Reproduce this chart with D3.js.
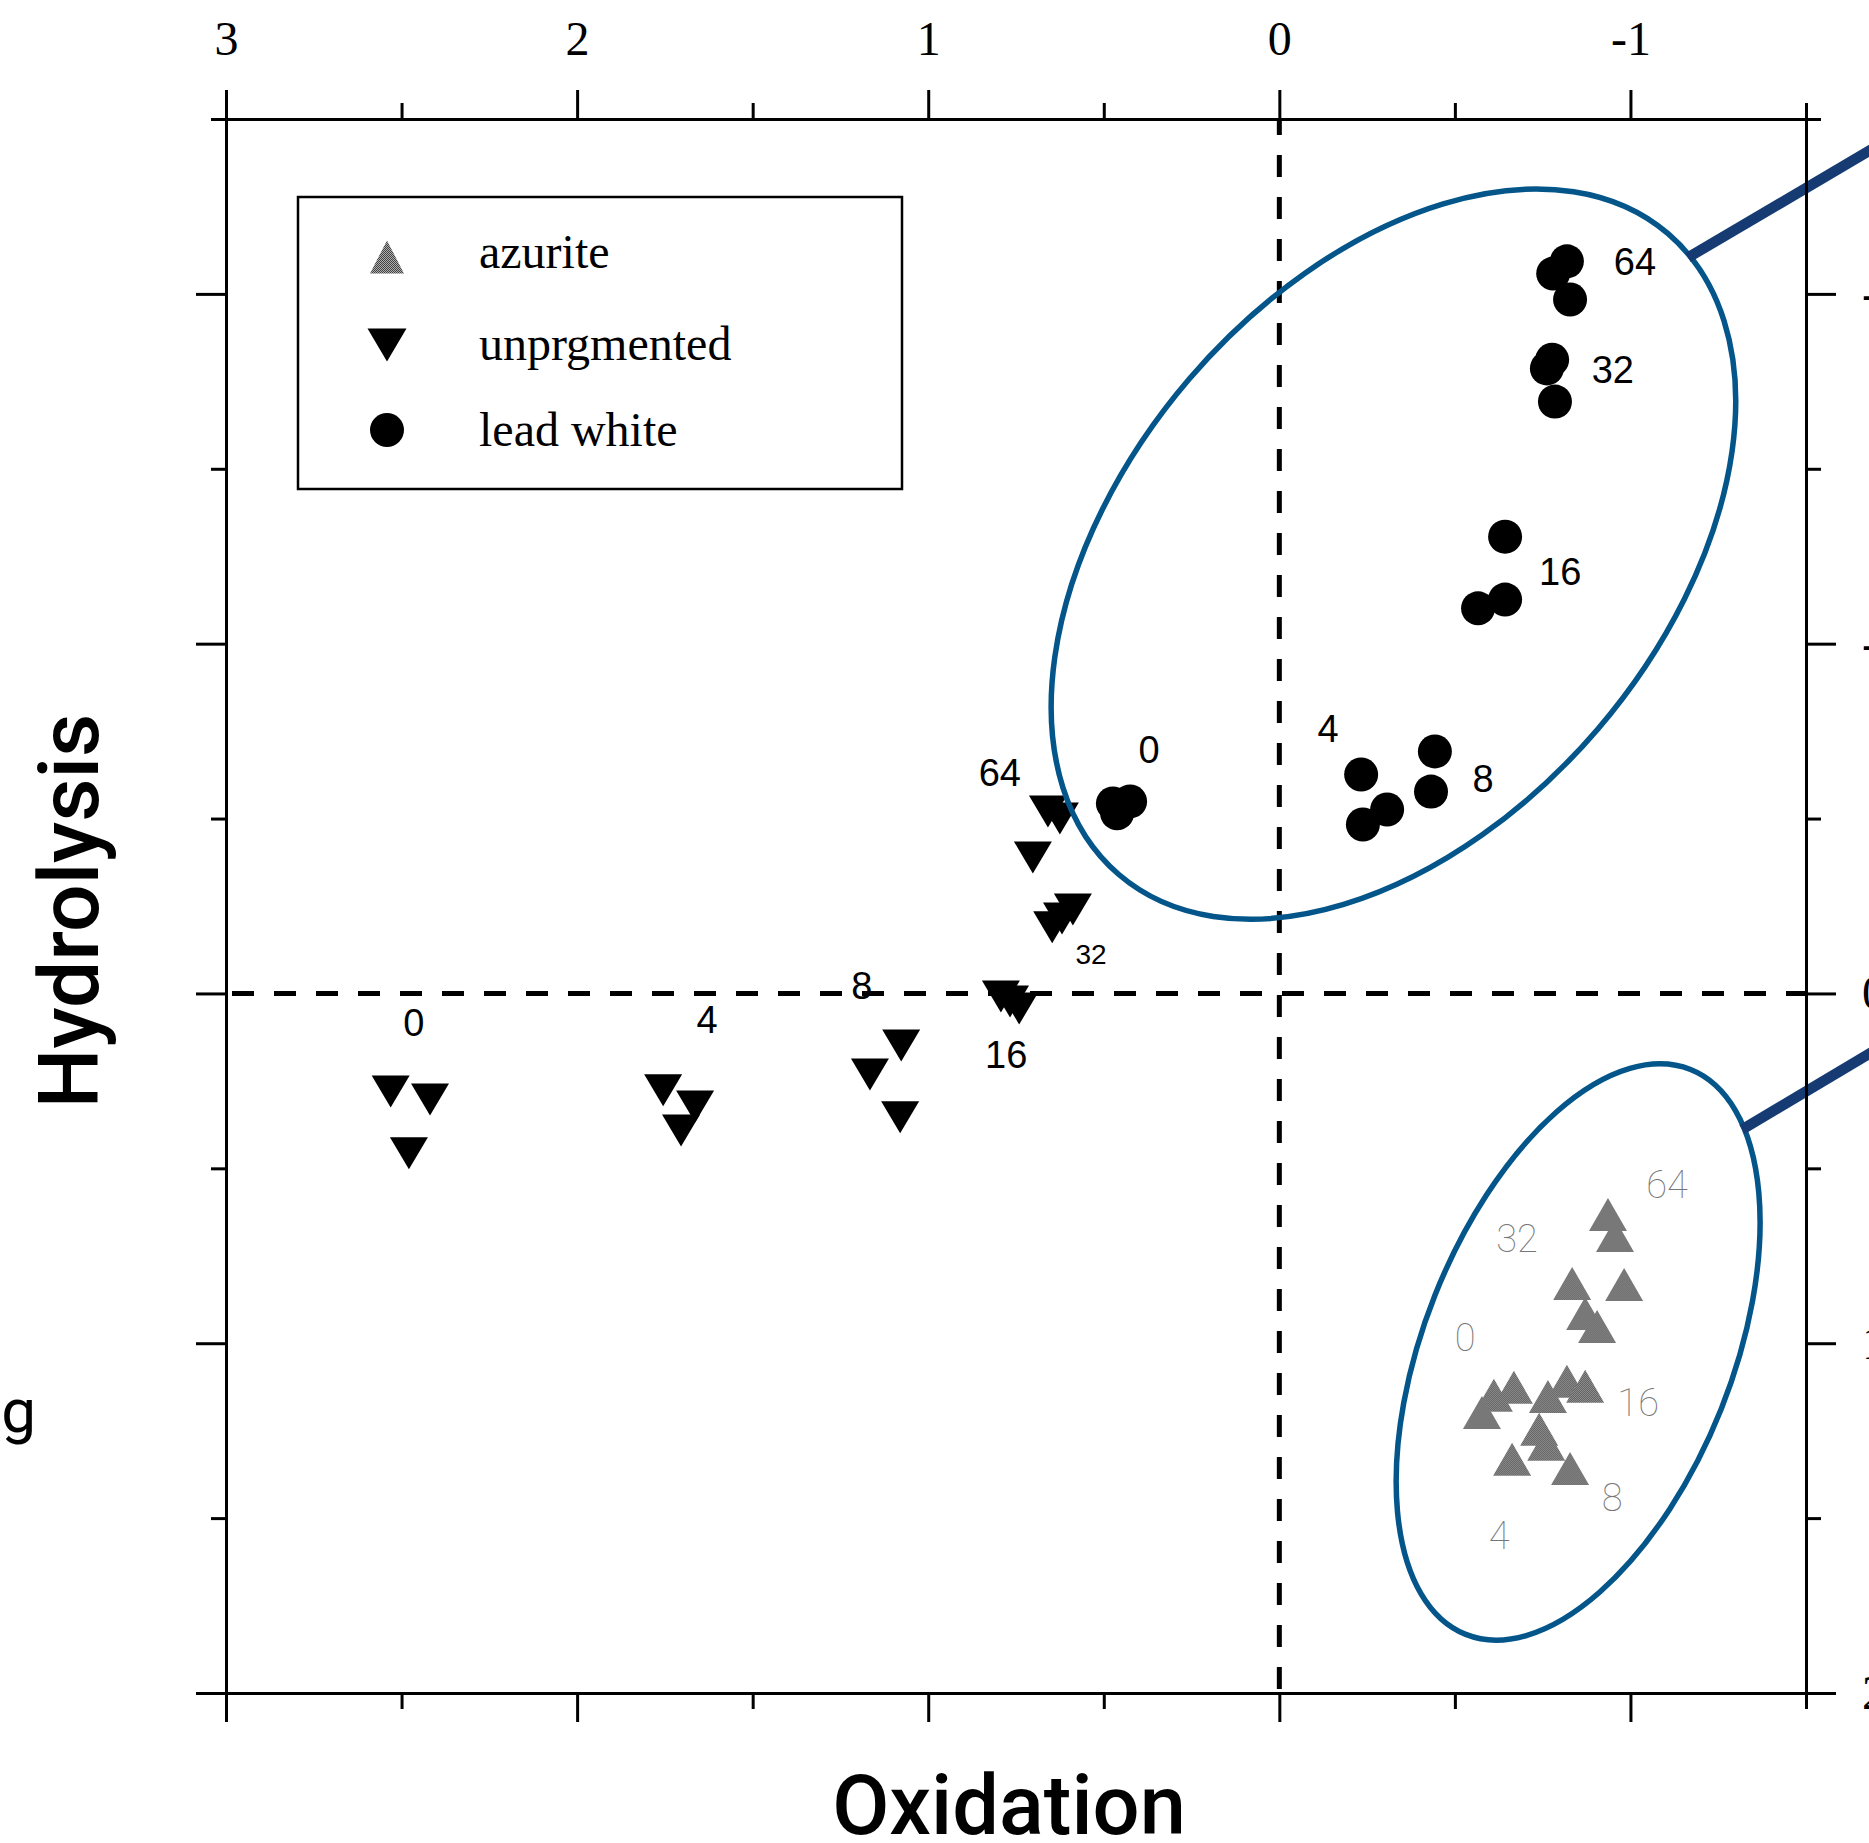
<!DOCTYPE html>
<html>
<head>
<meta charset="utf-8">
<script src="https://cdn.jsdelivr.net/npm/d3@7"></script>
<style>
html,body{margin:0;padding:0;background:#fff;}
svg{display:block;}
</style>
</head>
<body>
<svg id="chart" width="1869" height="1843"></svg>
<script>
// ---- data ----
const xMajor=[3,2,1,0,-1];
const xMinor=[2.5,1.5,0.5,-0.5,-1.5];
const yMajor=[-2,-1,0,1,2];
const yMinor=[-2.5,-1.5,-0.5,0.5,1.5];

// t = exposure label the replicate belongs to
const leadWhite=[
  {t:64,x:-0.819,y:-2.093},{t:64,x:-0.780,y:-2.058},{t:64,x:-0.828,y:-1.984},
  {t:32,x:-0.777,y:-1.812},{t:32,x:-0.762,y:-1.787},{t:32,x:-0.785,y:-1.692},
  {t:16,x:-0.643,y:-1.306},{t:16,x:-0.643,y:-1.126},{t:16,x:-0.566,y:-1.101},
  {t:8,x:-0.443,y:-0.692},{t:8,x:-0.432,y:-0.577},
  {t:4,x:-0.233,y:-0.626},{t:4,x:-0.307,y:-0.526},{t:4,x:-0.238,y:-0.483},
  {t:0,x:0.474,y:-0.543},{t:0,x:0.425,y:-0.549},{t:0,x:0.462,y:-0.515}
];
const unpigmented=[
  {t:0,x:2.531,y:0.280},{t:0,x:2.419,y:0.303},{t:0,x:2.479,y:0.457},
  {t:4,x:1.755,y:0.277},{t:4,x:1.664,y:0.323},{t:4,x:1.704,y:0.392},
  {t:8,x:1.077,y:0.149},{t:8,x:1.166,y:0.232},{t:8,x:1.080,y:0.354},
  {t:16,x:0.793,y:0.009},{t:16,x:0.767,y:0.023},{t:16,x:0.741,y:0.043},
  {t:32,x:0.588,y:-0.240},{t:32,x:0.619,y:-0.214},{t:32,x:0.647,y:-0.189},
  {t:64,x:0.659,y:-0.520},{t:64,x:0.625,y:-0.500},{t:64,x:0.702,y:-0.389}
];
const azurite=[
  {t:64,x:-0.936,y:0.632},{t:64,x:-0.956,y:0.692},{t:64,x:-0.982,y:0.832},
  {t:32,x:-0.834,y:0.829},{t:32,x:-0.871,y:0.915},{t:32,x:-0.905,y:0.952},
  {t:0,x:-0.611,y:1.149},{t:0,x:-0.577,y:1.198},{t:0,x:-0.668,y:1.126},
  {t:16,x:-0.765,y:1.152},{t:16,x:-0.819,y:1.109},{t:16,x:-0.871,y:1.123},
  {t:8,x:-0.740,y:1.246},{t:8,x:-0.760,y:1.289},{t:8,x:-0.828,y:1.358},
  {t:4,x:-0.663,y:1.332}
];

const leadWhiteLabels=[
  {text:"64",x:-1.013,y:-2.055},{text:"32",x:-0.950,y:-1.744},{text:"16",x:-0.800,y:-1.169},
  {text:"8",x:-0.580,y:-0.577},{text:"4",x:-0.139,y:-0.720},{text:"0",x:0.371,y:-0.660}
];
const unpigLabels=[
  {text:"0",x:2.465,y:0.123,s:38},{text:"4",x:1.630,y:0.114,s:38},{text:"8",x:1.189,y:0.017,s:38},
  {text:"16",x:0.778,y:0.214,s:38},{text:"32",x:0.536,y:-0.083,s:28},{text:"64",x:0.796,y:-0.592,s:38}
];
const azuriteLabels=[
  {text:"64",x:-1.104,y:0.586},{text:"32",x:-0.677,y:0.738},{text:"0",x:-0.529,y:1.023},
  {text:"16",x:-1.022,y:1.209},{text:"8",x:-0.948,y:1.481},{text:"4",x:-0.626,y:1.587}
];

// grouping ellipses (centre in data units) and their callout lines
const groups=[
  {cx:-0.325,cy:-1.256,rx:422,ry:269,rot:-49.4, line:[[-1.164,-2.104],[-1.768,-2.461]]},
  {cx:-0.851,cy:1.025,rx:304,ry:154,rot:-68.3, line:[[-1.318,0.389],[-1.768,0.120]]}
];

const legendItems=[
  {name:"azurite",kind:"up"},
  {name:"unprgmented",kind:"down"},
  {name:"lead white",kind:"circle"}
];

// ---- drawing ----
const svg=d3.select("#chart");
const x=d3.scaleLinear().domain([3,-1.5]).range([226,1806]);
const y=d3.scaleLinear().domain([-2.5,2]).range([119,1693]);

const defs=svg.append("defs");
const pat=defs.append("pattern").attr("id","stipple").attr("patternUnits","userSpaceOnUse")
  .attr("width",2).attr("height",2);
pat.append("rect").attr("width",2).attr("height",2).attr("fill","#b0b0b0");
pat.append("rect").attr("width",1).attr("height",1).attr("fill","#404040");
pat.append("rect").attr("x",1).attr("y",1).attr("width",1).attr("height",1).attr("fill","#404040");

function tri(w,h,down){
  return {draw(ctx){
    const s=down?1:-1;
    ctx.moveTo(-w/2,-s*h/2);
    ctx.lineTo(w/2,-s*h/2);
    ctx.lineTo(0,s*h/2);
    ctx.closePath();
  }};
}
const upPath=d3.symbol().type(tri(38,33,false))();
const downPath=d3.symbol().type(tri(38,32,true))();
const dotPath=d3.symbol().type(d3.symbolCircle).size(Math.PI*17*17)();

// dashed zero lines
svg.append("line").attr("x1",x(3)).attr("x2",x(-1.5)).attr("y1",y(0)).attr("y2",y(0))
  .attr("stroke","#000").attr("stroke-width",5).attr("stroke-dasharray","22 20").attr("stroke-dashoffset",36);
svg.append("line").attr("x1",x(0)).attr("x2",x(0)).attr("y1",y(-2.5)).attr("y2",y(2))
  .attr("stroke","#000").attr("stroke-width",5).attr("stroke-dasharray","22 20").attr("stroke-dashoffset",6);

// points
const pts=svg.append("g");
pts.selectAll(".az").data(azurite).join("path").attr("class","az")
  .attr("d",upPath).attr("fill","url(#stipple)")
  .attr("transform",d=>`translate(${x(d.x)},${y(d.y)})`);
pts.selectAll(".un").data(unpigmented).join("path").attr("class","un")
  .attr("d",downPath).attr("fill","#000")
  .attr("transform",d=>`translate(${x(d.x)},${y(d.y)})`);
pts.selectAll(".lw").data(leadWhite).join("path").attr("class","lw")
  .attr("d",dotPath).attr("fill","#000")
  .attr("transform",d=>`translate(${x(d.x)},${y(d.y)})`);

// labels
const lab=svg.append("g").attr("text-anchor","middle");
lab.selectAll(".lwl").data(leadWhiteLabels).join("text")
  .attr("x",d=>x(d.x)).attr("y",d=>y(d.y)).text(d=>d.text)
  .style("font-family","'Liberation Sans',Arial,sans-serif").style("font-size","38px").attr("fill","#000");
lab.selectAll(".unl").data(unpigLabels).join("text")
  .attr("x",d=>x(d.x)).attr("y",d=>y(d.y)).text(d=>d.text)
  .style("font-family","'Liberation Sans',Arial,sans-serif").style("font-size",d=>d.s+"px").attr("fill","#000");
lab.selectAll(".azl").data(azuriteLabels).join("text")
  .attr("x",d=>x(d.x)).attr("y",d=>y(d.y)).text(d=>d.text)
  .style("font-family","Roboto,sans-serif").style("font-weight",100).style("font-size","38px").attr("fill","#777");

// ellipses and callouts
const eg=svg.append("g");
eg.selectAll("ellipse").data(groups).join("ellipse")
  .attr("rx",d=>d.rx).attr("ry",d=>d.ry)
  .attr("transform",d=>`translate(${x(d.cx)},${y(d.cy)}) rotate(${d.rot})`)
  .attr("fill","none").attr("stroke","#03558a").attr("stroke-width",5.5);
eg.selectAll("line").data(groups).join("line")
  .attr("x1",d=>x(d.line[0][0])).attr("y1",d=>y(d.line[0][1]))
  .attr("x2",d=>x(d.line[1][0])).attr("y2",d=>y(d.line[1][1]))
  .attr("stroke","#163b73").attr("stroke-width",10.5);

// axes
function styleAxis(g){
  g.selectAll(".domain").attr("stroke","#000").attr("stroke-width",3);
  g.selectAll(".tick line").attr("stroke","#000").attr("stroke-width",3);
}
const serif="'Liberation Serif','Times New Roman',serif";
const fmt=d=>String(d);

svg.append("g").attr("transform",`translate(0,${y(-2.5)})`)
  .call(d3.axisTop(x).tickValues(xMinor).tickSize(16).tickSizeOuter(0).tickFormat(""))
  .call(styleAxis);
svg.append("g").attr("transform",`translate(0,${y(-2.5)})`)
  .call(d3.axisTop(x).tickValues(xMajor).tickSize(29).tickSizeOuter(0).tickPadding(35).tickFormat(fmt))
  .call(styleAxis)
  .call(g=>g.selectAll("text").style("font-family",serif).style("font-size","48px").attr("fill","#000"));

svg.append("g").attr("transform",`translate(0,${y(2)})`)
  .call(d3.axisBottom(x).tickValues(xMinor).tickSize(16).tickSizeOuter(0).tickFormat(""))
  .call(styleAxis);
svg.append("g").attr("transform",`translate(0,${y(2)})`)
  .call(d3.axisBottom(x).tickValues(xMajor.concat([3])).tickSize(29).tickSizeOuter(0).tickFormat(""))
  .call(styleAxis);

svg.append("g").attr("transform",`translate(${x(3)},0)`)
  .call(d3.axisLeft(y).tickValues(yMinor).tickSize(15).tickSizeOuter(0).tickFormat(""))
  .call(styleAxis);
svg.append("g").attr("transform",`translate(${x(3)},0)`)
  .call(d3.axisLeft(y).tickValues(yMajor).tickSize(30).tickSizeOuter(0).tickFormat(""))
  .call(styleAxis);

// right axis: its labels run past the right edge of the figure, as in the original
svg.append("g").attr("transform",`translate(${x(-1.5)},0)`)
  .call(d3.axisRight(y).tickValues(yMinor).tickSize(15).tickSizeOuter(0).tickFormat(""))
  .call(styleAxis);
svg.append("g").attr("transform",`translate(${x(-1.5)},0)`)
  .call(d3.axisRight(y).tickValues(yMajor).tickSize(30).tickSizeOuter(0).tickPadding(26).tickFormat(fmt))
  .call(styleAxis)
  .call(g=>g.selectAll("text").style("font-family",serif).style("font-size","48px").attr("fill","#000"));

// legend
const lg=svg.append("g");
lg.append("rect").attr("x",298).attr("y",197).attr("width",604).attr("height",292)
  .attr("fill","#fff").attr("stroke","#000").attr("stroke-width",2.5);
const rowSym=[257,345,430], rowText=[268,360,446];
legendItems.forEach((it,i)=>{
  const p=it.kind==="up"?d3.symbol().type(tri(34,33,false))()
        :it.kind==="down"?d3.symbol().type(tri(39,33,true))()
        :d3.symbol().type(d3.symbolCircle).size(Math.PI*17*17)();
  lg.append("path").attr("d",p).attr("transform",`translate(387,${rowSym[i]})`)
    .attr("fill",it.kind==="up"?"url(#stipple)":"#000");
  lg.append("text").attr("x",479).attr("y",rowText[i]).text(it.name)
    .style("font-family",serif).style("font-size","48px").attr("fill","#000");
});

// axis titles
const sans="Roboto,'Open Sans',sans-serif";
svg.append("text").attr("x",1009).attr("y",1834).attr("text-anchor","middle").text("Oxidation")
  .style("font-family",sans).style("font-weight",500).style("font-size","83px");
svg.append("text").attr("transform","translate(98,911) rotate(-90)").attr("text-anchor","middle").text("Hydrolysis")
  .style("font-family",sans).style("font-weight",500).style("font-size","84px");
// partly cut-off word at the left edge
svg.append("text").attr("x",36).attr("y",1432).attr("text-anchor","end").text("g")
  .style("font-family",sans).style("font-weight",400).style("font-size","62px");
</script>
</body>
</html>
